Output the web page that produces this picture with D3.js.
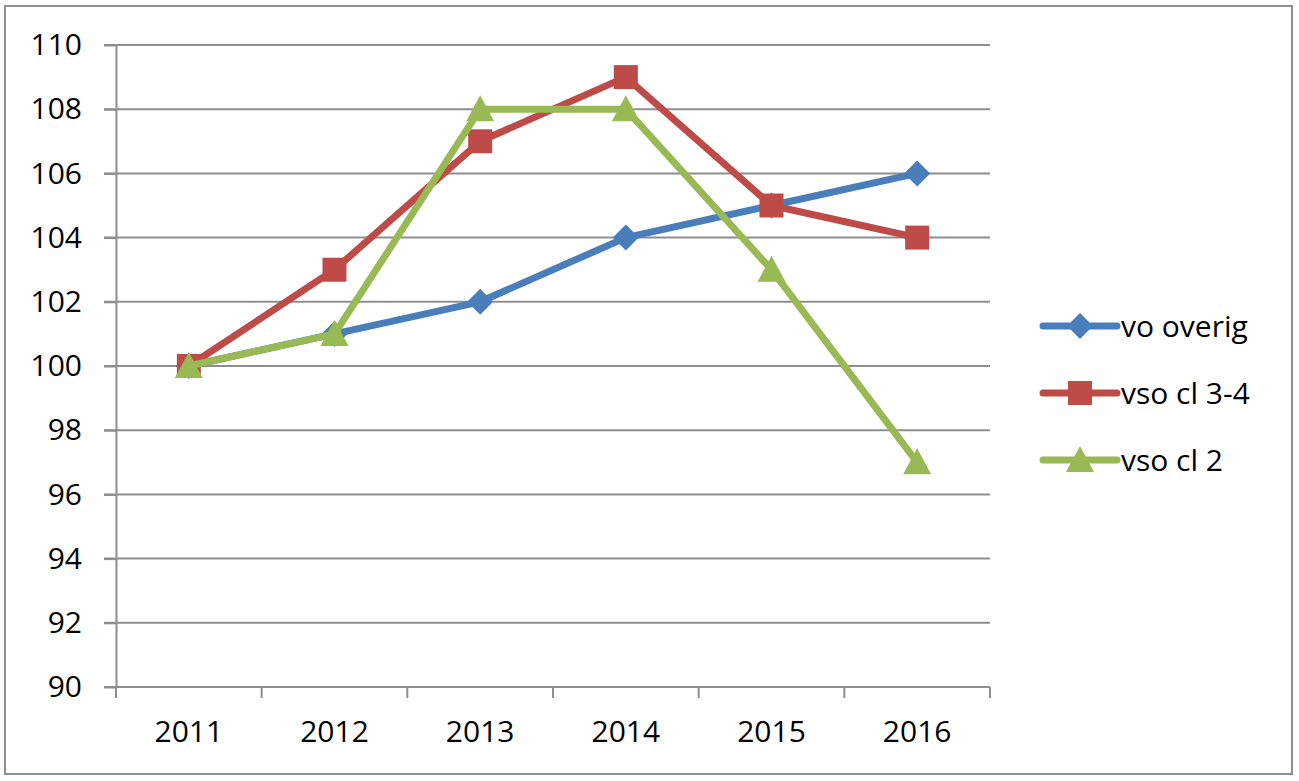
<!DOCTYPE html>
<html><head><meta charset="utf-8">
<script src="https://cdn.jsdelivr.net/npm/d3@7"></script>
<style>body{margin:0;background:#fff}svg{display:block}</style>
</head><body>
<svg id="c" width="1299" height="781"></svg>
<script>
const categories = ["2011","2012","2013","2014","2015","2016"];
const voOverig = [100,101,102,104,105,106];
const vsoCl34 = [100,103,107,109,105,104];
const vsoCl2 = [100,101,108,108,103,97];
const yTicks = [90,92,94,96,98,100,102,104,106,108,110];
const seriesNames = ["vo overig","vso cl 3-4","vso cl 2"];
const seriesColors = ["#4a7ebb","#be4b48","#98b954"];
const seriesShapes = ["diamond","square","triangle"];
const seriesValues = [voOverig, vsoCl34, vsoCl2];

const svg = d3.select("#c");
const font = "'Open Sans', Carlito, sans-serif";
const fs = 30;
const L=116,R=990,T=45,B=687;
svg.append("rect").attr("x",5).attr("y",6).attr("width",1287).attr("height",768)
  .attr("fill","#fff").attr("stroke","#8e8e8e").attr("stroke-width",2);

const x = d3.scaleBand().domain(categories).range([L,R]);
const y = d3.scaleLinear().domain([90,110]).range([B,T]);

svg.append("g").selectAll("line").data(yTicks).join("line")
  .attr("x1",L-12).attr("x2",R).attr("y1",d=>y(d)).attr("y2",d=>y(d))
  .attr("stroke","#8e8e8e").attr("stroke-width",2);

const yAxis = svg.append("g").attr("transform",`translate(${L},0)`)
  .call(d3.axisLeft(y).tickValues(yTicks).tickSize(12).tickPadding(22).tickSizeOuter(0));
yAxis.select(".domain").attr("stroke","#8e8e8e").attr("stroke-width",2);
yAxis.selectAll("line").attr("stroke","#8e8e8e").attr("stroke-width",2);
yAxis.selectAll("text").attr("font-family",font).attr("font-size",fs).attr("fill","#000");

const xAxis = svg.append("g").attr("transform",`translate(0,${B})`)
  .call(d3.axisBottom(x).tickSize(0).tickPadding(34));
xAxis.select(".domain").remove();
xAxis.selectAll("text").attr("font-family",font).attr("font-size",fs).attr("fill","#000");
const bounds = categories.map(c=>x(c)).concat([R]);
svg.append("g").selectAll("line").data(bounds).join("line")
  .attr("x1",d=>d).attr("x2",d=>d).attr("y1",B).attr("y2",B+11)
  .attr("stroke","#8e8e8e").attr("stroke-width",2);
svg.append("line").attr("x1",L-12).attr("x2",R).attr("y1",B).attr("y2",B)
  .attr("stroke","#8e8e8e").attr("stroke-width",2);

function shapePath(shape){
  if(shape==="diamond") return "M0,-13L13,0L0,13L-13,0Z";
  if(shape==="square") return "M-12,-12H12V12H-12Z";
  return "M0,-14L14,12H-14Z";
}

const cx = c => x(c)+x.bandwidth()/2;
const line = d3.line().x((d,i)=>cx(categories[i])).y(d=>y(d));
seriesValues.forEach((vals,si)=>{
  const g = svg.append("g");
  g.append("path").attr("d",line(vals)).attr("fill","none")
    .attr("stroke",seriesColors[si]).attr("stroke-width",7).attr("stroke-linejoin","round").attr("stroke-linecap","round");
  g.selectAll("path.m").data(vals).join("path").attr("class","m")
    .attr("transform",(d,i)=>`translate(${cx(categories[i])},${y(d)})`)
    .attr("d",shapePath(seriesShapes[si])).attr("fill",seriesColors[si]);
});

const legY = [326,393,460];
seriesNames.forEach((n,i)=>{
  const g = svg.append("g").attr("transform",`translate(1043,${legY[i]})`);
  g.append("line").attr("x1",0).attr("x2",74).attr("y1",0).attr("y2",0)
    .attr("stroke",seriesColors[i]).attr("stroke-width",7).attr("stroke-linecap","round");
  g.append("path").attr("transform","translate(37,0)").attr("d",shapePath(seriesShapes[i])).attr("fill",seriesColors[i]);
  g.append("text").attr("x",78).attr("y",0).attr("dy","0.35em").attr("font-family",font)
    .attr("font-size",fs).attr("fill","#000").text(n);
});
</script>
</body></html>
